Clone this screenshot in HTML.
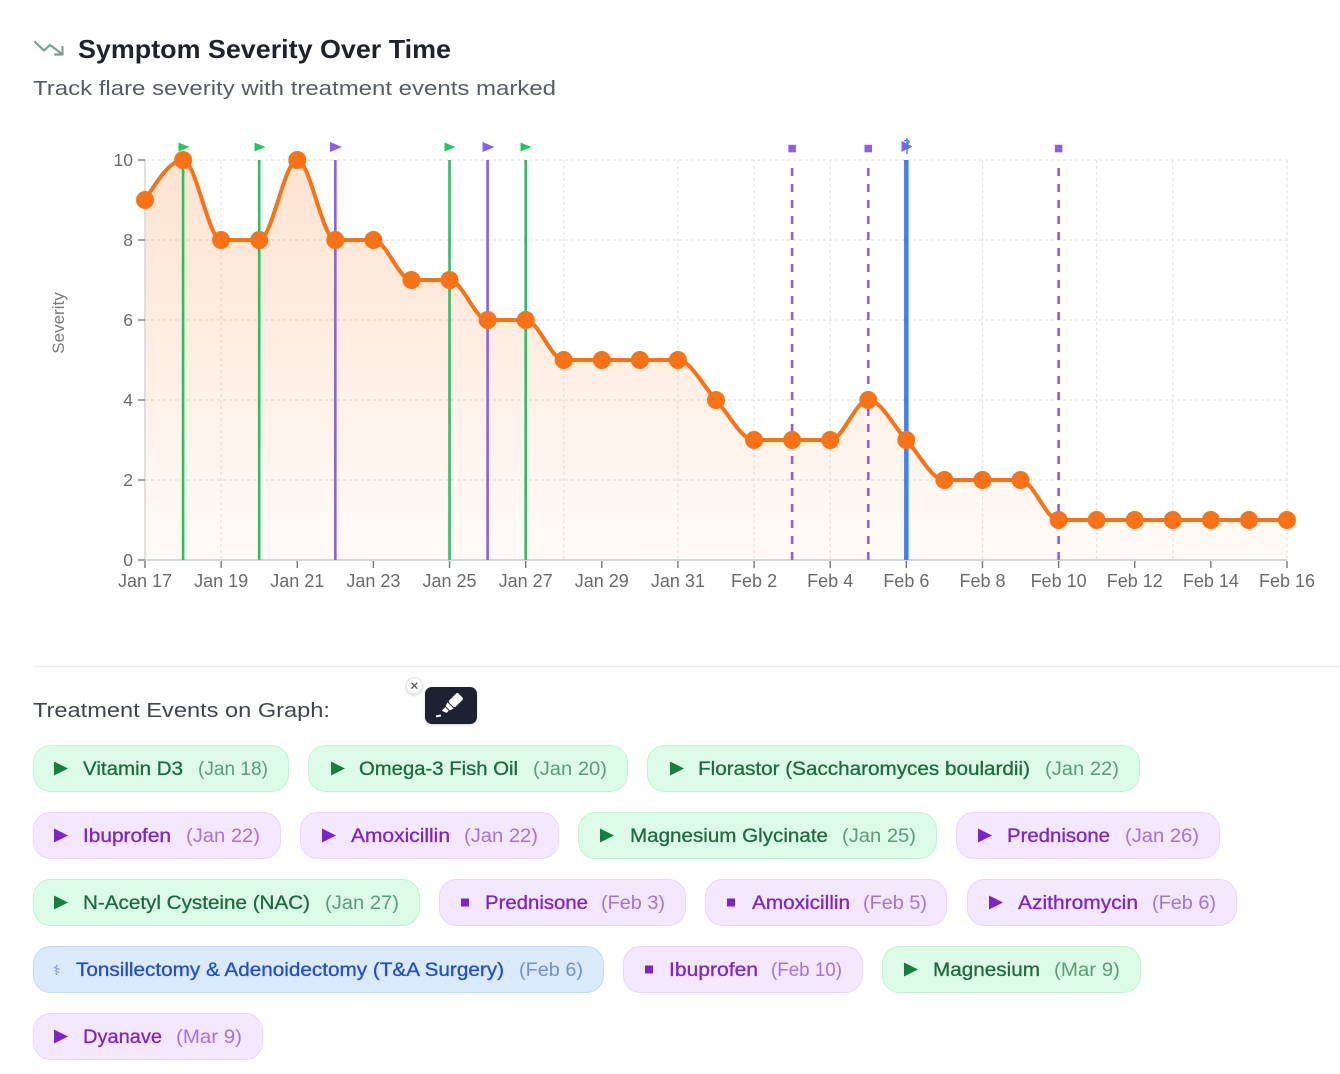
<!DOCTYPE html>
<html>
<head>
<meta charset="utf-8">
<style>
  html,body{margin:0;padding:0;background:#fff;}
  body{width:1340px;height:1074px;overflow:hidden;}
  svg{display:block;font-family:"Liberation Sans","DejaVu Sans",sans-serif;}
  .nm{stroke-width:0.3;}
</style>
</head>
<body>
<svg width="1340" height="1074" viewBox="0 0 1340 1074" xmlns="http://www.w3.org/2000/svg">
  <defs>
    <linearGradient id="ag" x1="0" y1="160" x2="0" y2="560" gradientUnits="userSpaceOnUse">
      <stop offset="0" stop-color="#f97316" stop-opacity="0.2"/>
      <stop offset="1" stop-color="#f97316" stop-opacity="0.03"/>
    </linearGradient>
    <filter id="sh" x="-30%" y="-30%" width="160%" height="160%">
      <feDropShadow dx="0" dy="1" stdDeviation="1.2" flood-color="#000" flood-opacity="0.18"/>
    </filter>
  </defs>

  <!-- Header -->
  <polyline points="35,42 44,50.5 50,45 62,54" fill="none" stroke="#7f9c92" stroke-width="2.2" stroke-linecap="round" stroke-linejoin="round"/>
  <polyline points="55,54.5 62.5,54.5 62.5,47" fill="none" stroke="#7f9c92" stroke-width="2.2" stroke-linecap="round" stroke-linejoin="round"/>
  <text x="78" y="58" font-size="26" font-weight="bold" fill="#1f2329" textLength="373" lengthAdjust="spacingAndGlyphs">Symptom Severity Over Time</text>
  <text x="33" y="95" font-size="20" fill="#575d66" textLength="523" lengthAdjust="spacingAndGlyphs">Track flare severity with treatment events marked</text>

  <!-- Grid -->
  <g stroke="#e3e3e3" stroke-width="1.2" stroke-dasharray="3 3" fill="none">
    <line x1="145" y1="160" x2="1287" y2="160"/>
    <line x1="145" y1="240" x2="1287" y2="240"/>
    <line x1="145" y1="320" x2="1287" y2="320"/>
    <line x1="145" y1="400" x2="1287" y2="400"/>
    <line x1="145" y1="480" x2="1287" y2="480"/>
    <line x1="221.13" y1="160" x2="221.13" y2="560"/>
    <line x1="563.73" y1="160" x2="563.73" y2="560"/>
    <line x1="677.93" y1="160" x2="677.93" y2="560"/>
    <line x1="754.07" y1="160" x2="754.07" y2="560"/>
    <line x1="830.2" y1="160" x2="830.2" y2="560"/>
    <line x1="982.47" y1="160" x2="982.47" y2="560"/>
    <line x1="1096.67" y1="160" x2="1096.67" y2="560"/>
    <line x1="1172.8" y1="160" x2="1172.8" y2="560"/>
    <line x1="1287" y1="160" x2="1287" y2="560"/>
  </g>

  <!-- Area -->
  <path fill="url(#ag)" stroke="none" d="M145,200 C157.69,180 170.38,160 183.07,160 C195.76,160 208.44,240 221.13,240 L259.2,240 C271.89,240 284.58,160 297.27,160 C309.96,160 322.64,240 335.33,240 L373.4,240 C386.09,240 398.78,280 411.47,280 L449.53,280 C462.22,280 474.91,320 487.6,320 L525.67,320 C538.36,320 551.04,360 563.73,360 L677.93,360 C690.62,360 703.31,386.67 716,400 C728.69,413.33 741.38,440 754.07,440 L830.2,440 C842.89,440 855.58,400 868.27,400 C880.96,400 893.64,426.67 906.33,440 C919.02,453.33 931.71,480 944.4,480 L1020.53,480 C1033.22,480 1045.91,520 1058.6,520 L1287,520 L1287,560 L145,560 Z"/>

  <!-- Axes -->
  <line x1="145" y1="160" x2="145" y2="560" stroke="#d6d6d6" stroke-width="1.5"/>
  <line x1="145" y1="560" x2="1287" y2="560" stroke="#d6d6d6" stroke-width="2"/>
  <g stroke="#777" stroke-width="1.4">
    <line x1="138" y1="160" x2="145" y2="160"/>
    <line x1="138" y1="240" x2="145" y2="240"/>
    <line x1="138" y1="320" x2="145" y2="320"/>
    <line x1="138" y1="400" x2="145" y2="400"/>
    <line x1="138" y1="480" x2="145" y2="480"/>
    <line x1="138" y1="560" x2="145" y2="560"/>
    <line x1="145" y1="561" x2="145" y2="568"/>
    <line x1="221.13" y1="561" x2="221.13" y2="568"/>
    <line x1="297.27" y1="561" x2="297.27" y2="568"/>
    <line x1="373.4" y1="561" x2="373.4" y2="568"/>
    <line x1="449.53" y1="561" x2="449.53" y2="568"/>
    <line x1="525.67" y1="561" x2="525.67" y2="568"/>
    <line x1="601.8" y1="561" x2="601.8" y2="568"/>
    <line x1="677.93" y1="561" x2="677.93" y2="568"/>
    <line x1="754.07" y1="561" x2="754.07" y2="568"/>
    <line x1="830.2" y1="561" x2="830.2" y2="568"/>
    <line x1="906.33" y1="561" x2="906.33" y2="568"/>
    <line x1="982.47" y1="561" x2="982.47" y2="568"/>
    <line x1="1058.6" y1="561" x2="1058.6" y2="568"/>
    <line x1="1134.73" y1="561" x2="1134.73" y2="568"/>
    <line x1="1210.87" y1="561" x2="1210.87" y2="568"/>
    <line x1="1287" y1="561" x2="1287" y2="568"/>
  </g>
  <g font-size="17.5" fill="#6b6b6b" text-anchor="end">
    <text x="133" y="166">10</text>
    <text x="133" y="246">8</text>
    <text x="133" y="326">6</text>
    <text x="133" y="406">4</text>
    <text x="133" y="486">2</text>
    <text x="133" y="566">0</text>
  </g>
  <g font-size="18" fill="#6b6b6b" text-anchor="middle">
    <text x="145" y="587">Jan 17</text>
    <text x="221.13" y="587">Jan 19</text>
    <text x="297.27" y="587">Jan 21</text>
    <text x="373.4" y="587">Jan 23</text>
    <text x="449.53" y="587">Jan 25</text>
    <text x="525.67" y="587">Jan 27</text>
    <text x="601.8" y="587">Jan 29</text>
    <text x="677.93" y="587">Jan 31</text>
    <text x="754.07" y="587">Feb 2</text>
    <text x="830.2" y="587">Feb 4</text>
    <text x="906.33" y="587">Feb 6</text>
    <text x="982.47" y="587">Feb 8</text>
    <text x="1058.6" y="587">Feb 10</text>
    <text x="1134.73" y="587">Feb 12</text>
    <text x="1210.87" y="587">Feb 14</text>
    <text x="1287" y="587">Feb 16</text>
  </g>
  <text transform="translate(64,323) rotate(-90)" font-size="17" fill="#7a7a7a" text-anchor="middle">Severity</text>

  <!-- Event lines -->
  <g stroke-width="2.6" fill="none">
    <line x1="183.07" y1="160" x2="183.07" y2="560" stroke="#22c55e"/>
    <line x1="259.2" y1="160" x2="259.2" y2="560" stroke="#22c55e"/>
    <line x1="335.33" y1="160" x2="335.33" y2="560" stroke="#8b5cf6"/>
    <line x1="449.53" y1="160" x2="449.53" y2="560" stroke="#22c55e"/>
    <line x1="487.6" y1="160" x2="487.6" y2="560" stroke="#8b5cf6"/>
    <line x1="525.67" y1="160" x2="525.67" y2="560" stroke="#22c55e"/>
    <line x1="792.13" y1="160" x2="792.13" y2="560" stroke="#8b5cf6" stroke-dasharray="8 8" stroke-dashoffset="8"/>
    <line x1="868.27" y1="160" x2="868.27" y2="560" stroke="#8b5cf6" stroke-dasharray="8 8" stroke-dashoffset="8"/>
    <line x1="1058.6" y1="160" x2="1058.6" y2="560" stroke="#8b5cf6" stroke-dasharray="8 8" stroke-dashoffset="8"/>
    <line x1="906.33" y1="160" x2="906.33" y2="560" stroke="#3b82f6" stroke-width="4.5"/>
  </g>
  <!-- Event markers -->
  <g>
    <polygon points="178.5,142.5 189.5,147 178.5,151.5" fill="#22c55e"/>
    <polygon points="254.5,142.5 265.5,147 254.5,151.5" fill="#22c55e"/>
    <polygon points="330,142 342,147 330,152" fill="#8b5cf6"/>
    <polygon points="444.5,142.5 455.5,147 444.5,151.5" fill="#22c55e"/>
    <polygon points="482.5,142 494.5,147 482.5,152" fill="#8b5cf6"/>
    <polygon points="520.5,142.5 531.5,147 520.5,151.5" fill="#22c55e"/>
    <rect x="788.4" y="144.8" width="7.5" height="7.5" fill="#8b5cf6"/>
    <rect x="864.5" y="144.8" width="7.5" height="7.5" fill="#8b5cf6"/>
    <rect x="1054.9" y="144.8" width="7.5" height="7.5" fill="#8b5cf6"/>
    <polygon points="901.5,141 912.5,146.5 901.5,152" fill="#8b5cf6"/>
    <path d="M907,138 L907,154 M904,141 C909,139 911,142 907,144 C903,146 905,149 909,148" stroke="#3b82f6" stroke-width="1.4" fill="none"/>
  </g>

  <!-- Series line -->
  <path fill="none" stroke="#f97316" stroke-width="4" stroke-linejoin="round" d="M145,200 C157.69,180 170.38,160 183.07,160 C195.76,160 208.44,240 221.13,240 L259.2,240 C271.89,240 284.58,160 297.27,160 C309.96,160 322.64,240 335.33,240 L373.4,240 C386.09,240 398.78,280 411.47,280 L449.53,280 C462.22,280 474.91,320 487.6,320 L525.67,320 C538.36,320 551.04,360 563.73,360 L677.93,360 C690.62,360 703.31,386.67 716,400 C728.69,413.33 741.38,440 754.07,440 L830.2,440 C842.89,440 855.58,400 868.27,400 C880.96,400 893.64,426.67 906.33,440 C919.02,453.33 931.71,480 944.4,480 L1020.53,480 C1033.22,480 1045.91,520 1058.6,520 L1287,520"/>
  <g fill="#f97316">
    <circle cx="145" cy="200" r="9"/>
    <circle cx="183.07" cy="160" r="9"/>
    <circle cx="221.13" cy="240" r="9"/>
    <circle cx="259.2" cy="240" r="9"/>
    <circle cx="297.27" cy="160" r="9"/>
    <circle cx="335.33" cy="240" r="9"/>
    <circle cx="373.4" cy="240" r="9"/>
    <circle cx="411.47" cy="280" r="9"/>
    <circle cx="449.53" cy="280" r="9"/>
    <circle cx="487.6" cy="320" r="9"/>
    <circle cx="525.67" cy="320" r="9"/>
    <circle cx="563.73" cy="360" r="9"/>
    <circle cx="601.8" cy="360" r="9"/>
    <circle cx="639.87" cy="360" r="9"/>
    <circle cx="677.93" cy="360" r="9"/>
    <circle cx="716" cy="400" r="9"/>
    <circle cx="754.07" cy="440" r="9"/>
    <circle cx="792.13" cy="440" r="9"/>
    <circle cx="830.2" cy="440" r="9"/>
    <circle cx="868.27" cy="400" r="9"/>
    <circle cx="906.33" cy="440" r="9"/>
    <circle cx="944.4" cy="480" r="9"/>
    <circle cx="982.47" cy="480" r="9"/>
    <circle cx="1020.53" cy="480" r="9"/>
    <circle cx="1058.6" cy="520" r="9"/>
    <circle cx="1096.67" cy="520" r="9"/>
    <circle cx="1134.73" cy="520" r="9"/>
    <circle cx="1172.8" cy="520" r="9"/>
    <circle cx="1210.87" cy="520" r="9"/>
    <circle cx="1248.93" cy="520" r="9"/>
    <circle cx="1287" cy="520" r="9"/>
  </g>

  <!-- Separator -->
  <line x1="33" y1="666.5" x2="1340" y2="666.5" stroke="#ececec" stroke-width="1.5"/>

  <!-- Legend heading -->
  <text x="33" y="717" font-size="20" fill="#40464f" textLength="297" lengthAdjust="spacingAndGlyphs">Treatment Events on Graph:</text>

  <!-- Edit widget -->
  <circle cx="414.3" cy="685.7" r="8" fill="#fff" stroke="#e2e2e2" stroke-width="1" filter="url(#sh)"/>
  <path d="M411.3,682.7 L417.3,688.7 M417.3,682.7 L411.3,688.7" stroke="#555" stroke-width="1.3"/>
  <rect x="425" y="687" width="52" height="37" rx="7" fill="#1d2130" filter="url(#sh)"/>
  <g transform="translate(452,704) rotate(45)" fill="#fff">
    <rect x="-4.5" y="-12" width="9" height="13" rx="2"/>
    <polygon points="-4.5,2 4.5,2 3,6 -3,6"/>
    <polygon points="-2.5,7 2.5,7 2.5,10 -2.5,12"/>
  </g>
  <line x1="436" y1="716" x2="441" y2="716" stroke="#fff" stroke-width="2" transform="rotate(-10 438 716)"/>

  <!-- Pills -->
  <g font-size="19">
    <!-- Row 1 -->
    <rect x="33.5" y="745.5" width="255" height="46" rx="17" fill="#dcfce7" stroke="#bbf7d0"/>
    <polygon points="54,761.5 68,768.5 54,775.5" fill="#15803d"/>
    <text class="nm" x="83" y="775" fill="#1d6b3f" stroke="#1d6b3f" textLength="100" lengthAdjust="spacingAndGlyphs">Vitamin D3</text>
    <text x="198" y="775" fill="#5b9d74" textLength="70" lengthAdjust="spacingAndGlyphs">(Jan 18)</text>

    <rect x="308.5" y="745.5" width="319" height="46" rx="17" fill="#dcfce7" stroke="#bbf7d0"/>
    <polygon points="331,761.5 345,768.5 331,775.5" fill="#15803d"/>
    <text class="nm" x="359" y="775" fill="#1d6b3f" stroke="#1d6b3f" textLength="159" lengthAdjust="spacingAndGlyphs">Omega-3 Fish Oil</text>
    <text x="533" y="775" fill="#5b9d74" textLength="74" lengthAdjust="spacingAndGlyphs">(Jan 20)</text>

    <rect x="647.5" y="745.5" width="492" height="46" rx="17" fill="#dcfce7" stroke="#bbf7d0"/>
    <polygon points="670,761.5 684,768.5 670,775.5" fill="#15803d"/>
    <text class="nm" x="698" y="775" fill="#1d6b3f" stroke="#1d6b3f" textLength="332" lengthAdjust="spacingAndGlyphs">Florastor (Saccharomyces boulardii)</text>
    <text x="1045" y="775" fill="#5b9d74" textLength="74" lengthAdjust="spacingAndGlyphs">(Jan 22)</text>

    <!-- Row 2 -->
    <rect x="33.5" y="812.5" width="247" height="46" rx="17" fill="#f3e8ff" stroke="#e9d5ff"/>
    <polygon points="54,828.5 68,835.5 54,842.5" fill="#7e22ce"/>
    <text class="nm" x="83" y="842" fill="#7e22ce" stroke="#7e22ce" textLength="88" lengthAdjust="spacingAndGlyphs">Ibuprofen</text>
    <text x="186" y="842" fill="#a772dc" textLength="74" lengthAdjust="spacingAndGlyphs">(Jan 22)</text>

    <rect x="300.5" y="812.5" width="258" height="46" rx="17" fill="#f3e8ff" stroke="#e9d5ff"/>
    <polygon points="322,828.5 336,835.5 322,842.5" fill="#7e22ce"/>
    <text class="nm" x="351" y="842" fill="#7e22ce" stroke="#7e22ce" textLength="99" lengthAdjust="spacingAndGlyphs">Amoxicillin</text>
    <text x="464" y="842" fill="#a772dc" textLength="74" lengthAdjust="spacingAndGlyphs">(Jan 22)</text>

    <rect x="578.5" y="812.5" width="358" height="46" rx="17" fill="#dcfce7" stroke="#bbf7d0"/>
    <polygon points="600,828.5 614,835.5 600,842.5" fill="#15803d"/>
    <text class="nm" x="630" y="842" fill="#1d6b3f" stroke="#1d6b3f" textLength="198" lengthAdjust="spacingAndGlyphs">Magnesium Glycinate</text>
    <text x="842" y="842" fill="#5b9d74" textLength="74" lengthAdjust="spacingAndGlyphs">(Jan 25)</text>

    <rect x="956.5" y="812.5" width="263" height="46" rx="17" fill="#f3e8ff" stroke="#e9d5ff"/>
    <polygon points="978,828.5 992,835.5 978,842.5" fill="#7e22ce"/>
    <text class="nm" x="1007" y="842" fill="#7e22ce" stroke="#7e22ce" textLength="103" lengthAdjust="spacingAndGlyphs">Prednisone</text>
    <text x="1125" y="842" fill="#a772dc" textLength="74" lengthAdjust="spacingAndGlyphs">(Jan 26)</text>

    <!-- Row 3 -->
    <rect x="33.5" y="879.5" width="386" height="46" rx="17" fill="#dcfce7" stroke="#bbf7d0"/>
    <polygon points="54,895.5 68,902.5 54,909.5" fill="#15803d"/>
    <text class="nm" x="83" y="909" fill="#1d6b3f" stroke="#1d6b3f" textLength="227" lengthAdjust="spacingAndGlyphs">N-Acetyl Cysteine (NAC)</text>
    <text x="325" y="909" fill="#5b9d74" textLength="74" lengthAdjust="spacingAndGlyphs">(Jan 27)</text>

    <rect x="439.5" y="879.5" width="246" height="46" rx="17" fill="#f3e8ff" stroke="#e9d5ff"/>
    <rect x="461" y="898.5" width="8" height="8" fill="#7e22ce"/>
    <text class="nm" x="485" y="909" fill="#7e22ce" stroke="#7e22ce" textLength="103" lengthAdjust="spacingAndGlyphs">Prednisone</text>
    <text x="601" y="909" fill="#a772dc" textLength="64" lengthAdjust="spacingAndGlyphs">(Feb 3)</text>

    <rect x="705.5" y="879.5" width="241" height="46" rx="17" fill="#f3e8ff" stroke="#e9d5ff"/>
    <rect x="727" y="898.5" width="8" height="8" fill="#7e22ce"/>
    <text class="nm" x="752" y="909" fill="#7e22ce" stroke="#7e22ce" textLength="98" lengthAdjust="spacingAndGlyphs">Amoxicillin</text>
    <text x="863" y="909" fill="#a772dc" textLength="64" lengthAdjust="spacingAndGlyphs">(Feb 5)</text>

    <rect x="967.5" y="879.5" width="269" height="46" rx="17" fill="#f3e8ff" stroke="#e9d5ff"/>
    <polygon points="989,895.5 1003,902.5 989,909.5" fill="#7e22ce"/>
    <text class="nm" x="1018" y="909" fill="#7e22ce" stroke="#7e22ce" textLength="120" lengthAdjust="spacingAndGlyphs">Azithromycin</text>
    <text x="1152" y="909" fill="#a772dc" textLength="64" lengthAdjust="spacingAndGlyphs">(Feb 6)</text>

    <!-- Row 4 -->
    <rect x="33.5" y="946.5" width="570" height="46" rx="17" fill="#dbeafe" stroke="#bfdbfe"/>
    <text x="53" y="975" font-size="14" fill="#6b84d8" font-family="DejaVu Sans, sans-serif">⚕</text>
    <text class="nm" x="76" y="976" fill="#1d4ed8" stroke="#1d4ed8" textLength="428" lengthAdjust="spacingAndGlyphs">Tonsillectomy &amp; Adenoidectomy (T&amp;A Surgery)</text>
    <text x="519" y="976" fill="#6f8fe0" textLength="64" lengthAdjust="spacingAndGlyphs">(Feb 6)</text>

    <rect x="623.5" y="946.5" width="239" height="46" rx="17" fill="#f3e8ff" stroke="#e9d5ff"/>
    <rect x="645" y="965.5" width="8" height="8" fill="#7e22ce"/>
    <text class="nm" x="669" y="976" fill="#7e22ce" stroke="#7e22ce" textLength="89" lengthAdjust="spacingAndGlyphs">Ibuprofen</text>
    <text x="771" y="976" fill="#a772dc" textLength="71" lengthAdjust="spacingAndGlyphs">(Feb 10)</text>

    <rect x="882.5" y="946.5" width="258" height="46" rx="17" fill="#dcfce7" stroke="#bbf7d0"/>
    <polygon points="904,962.5 918,969.5 904,976.5" fill="#15803d"/>
    <text class="nm" x="933" y="976" fill="#1d6b3f" stroke="#1d6b3f" textLength="107" lengthAdjust="spacingAndGlyphs">Magnesium</text>
    <text x="1054" y="976" fill="#5b9d74" textLength="66" lengthAdjust="spacingAndGlyphs">(Mar 9)</text>

    <!-- Row 5 -->
    <rect x="33.5" y="1013.5" width="229" height="46" rx="17" fill="#f3e8ff" stroke="#e9d5ff"/>
    <polygon points="54,1029.5 68,1036.5 54,1043.5" fill="#7e22ce"/>
    <text class="nm" x="83" y="1043" fill="#7e22ce" stroke="#7e22ce" textLength="79" lengthAdjust="spacingAndGlyphs">Dyanave</text>
    <text x="176" y="1043" fill="#a772dc" textLength="66" lengthAdjust="spacingAndGlyphs">(Mar 9)</text>
  </g>
</svg>
</body>
</html>
